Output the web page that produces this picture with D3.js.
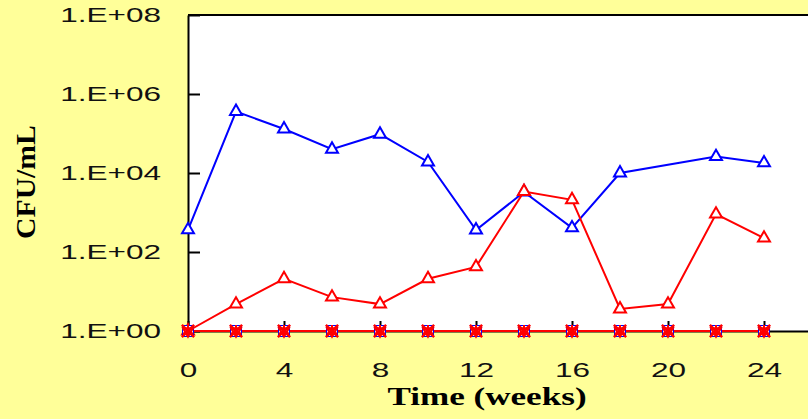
<!DOCTYPE html>
<html>
<head>
<meta charset="utf-8">
<script src="https://cdn.jsdelivr.net/npm/d3@7"></script>
<style>
  body { margin: 0; background: #ffff99; }
  svg { display: block; }
</style>
</head>
<body>
<div id="app"></div>
<script>
// Data (CFU/mL, log scale)
const weeks = [0, 2, 4, 6, 8, 10, 12, 14, 16, 18, 20, 22, 24];
const blueCounts = [365, 360000, 130000, 40000, 96000, 19000, 360, 3300, 410, 10000, null, 26000, 18000];
const redCounts = [1, 4.8, 21, 7.2, 4.8, 21, 42, 3400, 2100, 3.6, 4.8, 910, 224];
// series that stay at the detection floor (all overlap at the bottom)
const squareCounts = [1, 1, 1, 1, 1, 1, 1, 1, 1, 1, 1, 1, 1];
const crossCounts = [1, 1, 1, 1, 1, 1, 1, 1, 1, 1, 1, 1, 1];
const starCounts = [1, 1, 1, 1, 1, 1, 1, 1, 1, 1, 1, 1, 1];
const downCounts = [1, 1, 1, 1, 1, 1, 1, 1, 1, 1, 1, 1, 1];

const xTicks = [0, 4, 8, 12, 16, 20, 24];
const yTicks = [1, 1e2, 1e4, 1e6, 1e8];
const yTickLabels = ['1.E+00', '1.E+02', '1.E+04', '1.E+06', '1.E+08'];

const width = 808, height = 419;

const x = d3.scaleLinear().domain([0, 26]).range([188, 812]);
const y = d3.scaleLog().domain([1, 1e8]).range([331, 15]);

const svg = d3.select('#app').append('svg')
    .attr('width', width)
    .attr('height', height)
    .style('background', '#ffff99');

// plot area
svg.append('rect')
    .attr('x', x(0))
    .attr('y', y(1e8))
    .attr('width', x(26) - x(0))
    .attr('height', y(1) - y(1e8))
    .attr('fill', 'white');

svg.append('line')
    .attr('x1', x(0)).attr('x2', x(26))
    .attr('y1', y(1e8)).attr('y2', y(1e8))
    .attr('stroke', 'black')
    .attr('stroke-width', 2);

// stretch text horizontally to match the wide look of the original
function stretch(sel, factor) {
    sel.each(function () {
        const w = this.getComputedTextLength();
        d3.select(this)
            .attr('textLength', w * factor)
            .attr('lengthAdjust', 'spacingAndGlyphs');
    });
}

const xAxis = svg.append('g')
    .attr('transform', `translate(0,${y(1)})`)
    .call(d3.axisBottom(x)
        .tickValues(xTicks)
        .tickSizeInner(-10)
        .tickSizeOuter(0)
        .tickPadding(31));

const yAxis = svg.append('g')
    .attr('transform', `translate(${x(0)},0)`)
    .call(d3.axisLeft(y)
        .tickValues(yTicks)
        .tickFormat((d, i) => yTickLabels[i])
        .tickSizeInner(-12)
        .tickSizeOuter(0)
        .tickPadding(27));

[xAxis, yAxis].forEach(ax => {
    ax.select('.domain').attr('stroke', 'black').attr('stroke-width', 2);
    ax.selectAll('.tick line').attr('stroke', 'black').attr('stroke-width', 2);
    ax.selectAll('.tick text')
        .attr('fill', '#111')
        .style('font-family', '"Liberation Sans", Arial, sans-serif')
        .style('font-size', '21px')
        .call(stretch, 1.5);
});

// axis titles
svg.append('text')
    .attr('x', 487)
    .attr('y', 405)
    .attr('text-anchor', 'middle')
    .style('font-family', '"Liberation Serif", "Times New Roman", serif')
    .style('font-weight', 'bold')
    .style('font-size', '26px')
    .text('Time (weeks)')
    .call(stretch, 1.35);

svg.append('text')
    .attr('transform', 'translate(35,182) rotate(-90)')
    .attr('text-anchor', 'middle')
    .style('font-family', '"Liberation Serif", "Times New Roman", serif')
    .style('font-weight', 'bold')
    .style('font-size', '27px')
    .text('CFU/mL')
    .call(stretch, 1.1);

// series helpers
function toPoints(values) {
    return weeks.map((w, i) => ({ w, v: values[i] })).filter(d => d.v != null);
}

const line = d3.line()
    .x(d => x(d.w))
    .y(d => y(d.v));

function drawLine(values, color) {
    svg.append('path')
        .datum(toPoints(values))
        .attr('d', line)
        .attr('fill', 'none')
        .attr('stroke', color)
        .attr('stroke-width', 2);
}

function drawSymbols(values, symbol, size, color, opts = {}) {
    svg.append('g').selectAll('path')
        .data(toPoints(values))
        .enter().append('path')
        .attr('transform', d => `translate(${x(d.w)},${y(d.v)})${opts.rotate ? ' rotate(' + opts.rotate + ')' : ''}`)
        .attr('d', d3.symbol().type(symbol).size(size))
        .attr('fill', opts.fill || 'none')
        .attr('stroke', color)
        .attr('stroke-width', opts.sw || 2);
}

// main series
drawLine(blueCounts, '#0000ff');
drawSymbols(blueCounts, d3.symbolTriangle, 62, '#0000ff', { fill: 'white' });

drawLine(redCounts, '#ff0000');
drawSymbols(redCounts, d3.symbolTriangle, 62, '#ff0000', { fill: 'white' });

// floor series
drawLine(squareCounts, '#0000ff');
drawLine(crossCounts, '#ff0000');
drawSymbols(squareCounts, d3.symbolSquare, 121, '#0000ff', { fill: 'white', sw: 1 });
drawSymbols(crossCounts, d3.symbolTimes, 100, '#ff0000', { sw: 2.5 });
drawSymbols(starCounts, d3.symbolAsterisk, 100, '#ff0000', { sw: 2 });
drawSymbols(downCounts, d3.symbolTriangle2, 70, '#ff0000', { rotate: 180, sw: 2 });
</script>
</body>
</html>
